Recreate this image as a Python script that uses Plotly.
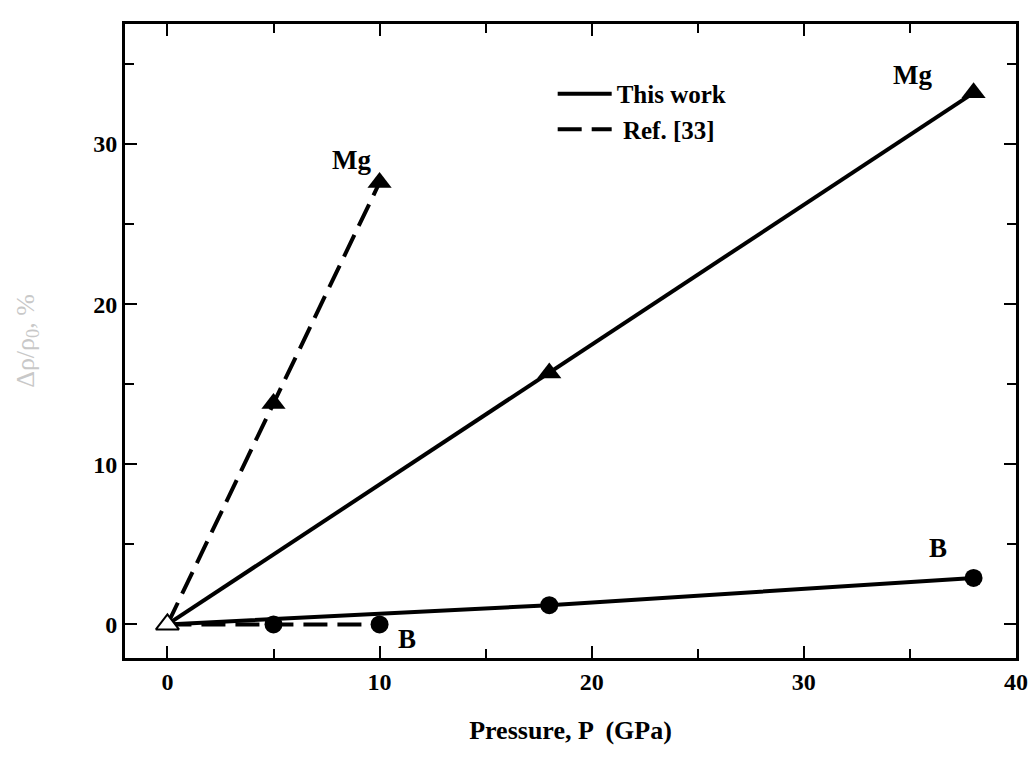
import plotly.graph_objects as go

# Data
this_mg_x = [0, 18, 38]
this_mg_y = [0, 15.7, 33.2]
this_b_x = [0, 18, 38]
this_b_y = [0, 1.2, 2.9]
ref_mg_x = [0, 5, 10]
ref_mg_y = [0, 13.8, 27.6]
ref_b_x = [0, 5, 10]
ref_b_y = [0, 0, 0]
x_ticks = [0, 10, 20, 30, 40]
y_ticks = [0, 10, 20, 30]

FONT = "Liberation Serif"
fig = go.Figure()

def add(x, y, sym, size, dash, name, legend, lg):
    fig.add_trace(go.Scatter(
        x=x[1:], y=y[1:], mode="markers", marker=dict(symbol=sym, size=size, color="black"),
        showlegend=False, hoverinfo="skip"))
    fig.add_trace(go.Scatter(
        x=x, y=y, mode="lines", line=dict(color="black", width=4, dash=dash),
        name=name, showlegend=legend, legendgroup=lg))

add(this_mg_x, this_mg_y, "triangle-up", 21, "solid", "<b>This work</b>", True, "a")
add(this_b_x, this_b_y, "circle", 18, "solid", "<b>This work</b>", False, "a")
add(ref_mg_x, ref_mg_y, "triangle-up", 21, "24px,10px", "<b> Ref. [33]</b>", True, "b")
add(ref_b_x, ref_b_y, "circle", 18, "24px,10px", "<b> Ref. [33]</b>", False, "b")

fig.add_trace(go.Scatter(x=[0], y=[0], mode="markers",
                         marker=dict(symbol="triangle-up", size=20, color="white",
                                     line=dict(color="black", width=2)),
                         showlegend=False, hoverinfo="skip"))

ann = [("Mg", 8.7, 29.0), ("Mg", 35.1, 34.3), ("B", 36.3, 4.8), ("B", 11.3, -0.9)]
for t, x, y in ann:
    fig.add_annotation(x=x, y=y, text="<b>%s</b>" % t, showarrow=False,
                       font=dict(family=FONT, size=27, color="black"))

axis_common = dict(showline=True, linewidth=3, linecolor="black", mirror="ticks",
                   ticks="inside", ticklen=12, tickwidth=2, tickcolor="black",
                   showgrid=False, zeroline=False, automargin=False,
                   minor=dict(ticks="inside", ticklen=9, tickwidth=2, tickcolor="black", dtick=5),
                   tickfont=dict(family=FONT, size=24, color="black"))

fig.update_xaxes(range=[-2.0, 40], tickmode="array", tickvals=x_ticks,
                 ticktext=["<b>%d</b>" % v for v in x_ticks],
                 title=dict(text="<b>Pressure, P  (GPa)</b>",
                            font=dict(family=FONT, size=26, color="black"), standoff=28),
                 **axis_common)
fig.update_yaxes(range=[-2.1, 37.5], tickmode="array", tickvals=y_ticks,
                 ticktext=["<b>%d</b>" % v for v in y_ticks],
                 title=dict(text="Δρ/ρ<sub>0</sub>, %",
                            font=dict(family=FONT, size=26, color="#c8c8c8"), standoff=52),
                 **axis_common)

fig.update_layout(
    width=1032, height=759,
    margin=dict(l=125, r=16, t=24, b=101),
    plot_bgcolor="white", paper_bgcolor="white",
    legend=dict(x=0.48, y=0.926, xanchor="left", yanchor="top",
                font=dict(family=FONT, size=25, color="black"),
                bgcolor="rgba(0,0,0,0)", itemwidth=54, tracegroupgap=0),
)

fig.write_html("out.html", config={"displayModeBar": False},
               post_script="document.body.style.margin='0px';document.body.style.overflow='hidden';")
